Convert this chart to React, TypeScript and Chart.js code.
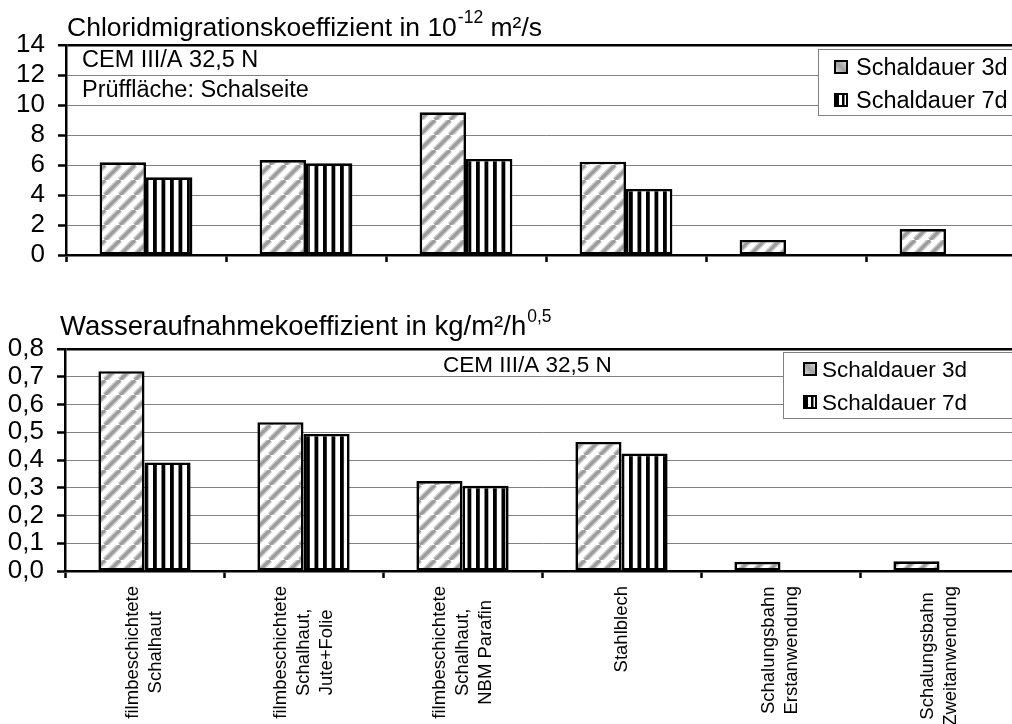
import React, { useEffect, useRef } from 'react';
import { Chart, registerables } from 'chart.js';

Chart.register(...registerables);

const FONT = '"Liberation Sans", Arial, sans-serif';

const categories: string[][] = [
  ['filmbeschichtete', 'Schalhaut'],
  ['filmbeschichtete', 'Schalhaut,', 'Jute+Folie'],
  ['filmbeschichtete', 'Schalhaut,', 'NBM Parafin'],
  ['Stahlblech'],
  ['Schalungsbahn', 'Erstanwendung'],
  ['Schalungsbahn', 'Zweitanwendung'],
];
const seriesNames = ['Schaldauer 3d', 'Schaldauer 7d'];

const chloride3d = [6.18, 6.33, 9.51, 6.22, 1.0, 1.73];
const chloride7d = [5.18, 6.11, 6.4, 4.4, null, null];
const water3d = [0.72, 0.536, 0.324, 0.465, 0.033, 0.035];
const water7d = [0.391, 0.494, 0.307, 0.423, null, null];

const chlorideAxis = { max: 14, step: 2 };
const waterAxis = { max: 0.8, step: 0.1 };

const chlorideTitle = ['Chloridmigrationskoeffizient in 10', '-12', ' m²/s'];
const waterTitle = ['Wasseraufnahmekoeffizient in kg/m²/h', '0,5', ''];
const chlorideNotes = ['CEM III/A 32,5 N', 'Prüffläche: Schalseite'];
const waterNotes = ['CEM III/A 32,5 N'];

function makeDiagPattern(ctx: CanvasRenderingContext2D): CanvasPattern {
  const s = 15;
  const c = document.createElement('canvas');
  c.width = s;
  c.height = s;
  const g = c.getContext('2d')!;
  g.fillStyle = '#fff';
  g.fillRect(0, 0, s, s);
  const lines = (w: number, col: string) => {
    g.strokeStyle = col;
    g.lineWidth = w;
    for (const off of [-s, 0, s]) {
      g.beginPath();
      g.moveTo(off, s);
      g.lineTo(off + s, 0);
      g.stroke();
    }
  };
  lines(6, '#cfcfcf');
  lines(3.2, '#9c9c9c');
  return ctx.createPattern(c, 'repeat')!;
}

function makeVertPattern(ctx: CanvasRenderingContext2D): CanvasPattern {
  const c = document.createElement('canvas');
  c.width = 17;
  c.height = 4;
  const g = c.getContext('2d')!;
  g.fillStyle = '#fff';
  g.fillRect(0, 0, 17, 4);
  g.fillStyle = '#000';
  g.fillRect(0, 0, 3.8, 4);
  g.fillRect(8.5, 0, 3.8, 4);
  return ctx.createPattern(c, 'repeat')!;
}

type Legend = { x: number; y: number; h: number; markerX: number; textX: number; baselines: number[]; font: number };

function drawLegend(ctx: CanvasRenderingContext2D, w: number, L: Legend) {
  ctx.save();
  ctx.fillStyle = '#fff';
  ctx.fillRect(L.x, L.y, w - L.x + 5, L.h);
  ctx.strokeStyle = '#808080';
  ctx.lineWidth = 1;
  ctx.strokeRect(L.x + 0.5, L.y + 0.5, w - L.x + 5, L.h);
  const m = 14;
  const y1 = L.baselines[0] - 15;
  const grd = ctx.createLinearGradient(L.markerX, y1 + m, L.markerX + m, y1);
  grd.addColorStop(0, '#e8e8e8');
  grd.addColorStop(0.5, '#a0a0a0');
  grd.addColorStop(1, '#e8e8e8');
  ctx.fillStyle = grd;
  ctx.fillRect(L.markerX, y1, m, m);
  ctx.strokeStyle = '#000';
  ctx.lineWidth = 2;
  ctx.strokeRect(L.markerX + 1, y1 + 1, m - 2, m - 2);
  const y2 = L.baselines[1] - 15;
  ctx.fillStyle = '#fff';
  ctx.fillRect(L.markerX, y2, m, m);
  ctx.fillStyle = '#000';
  ctx.fillRect(L.markerX, y2, 5, m);
  ctx.fillRect(L.markerX + 8, y2, 2.5, m);
  ctx.fillRect(L.markerX + m - 2, y2, 2, m);
  ctx.fillRect(L.markerX, y2, m, 2);
  ctx.fillRect(L.markerX, y2 + m - 2, m, 2);
  ctx.fillStyle = '#000';
  ctx.font = `${L.font}px ${FONT}`;
  ctx.textAlign = 'left';
  ctx.textBaseline = 'alphabetic';
  seriesNames.forEach((n, i) => ctx.fillText(n, L.textX, L.baselines[i]));
  ctx.restore();
}

type Cfg = {
  d3: (number | null)[];
  d7: (number | null)[];
  axis: { max: number; step: number };
  fmt: (v: number) => string;
  yWidth: number;
  top: number;
  xHeight: number;
  title: string[];
  titleX: number;
  titleY: number;
  titleSize: number;
  notes: { text: string; x: number; y: number; size: number }[];
  legend: Legend;
  xLabels: boolean;
};

function buildChart(canvas: HTMLCanvasElement, c: Cfg) {
  const ctx = canvas.getContext('2d')!;
  const diag = makeDiagPattern(ctx);
  const vert = makeVertPattern(ctx);
  const isTop = (v: number) => Math.abs(v - c.axis.max) < 1e-6;
  const overlay = {
    id: 'overlay',
    afterDraw(chart: any) {
      const g: CanvasRenderingContext2D = chart.ctx;
      g.save();
      g.fillStyle = '#000';
      g.textBaseline = 'alphabetic';
      g.textAlign = 'left';
      g.font = `${c.titleSize}px ${FONT}`;
      let x = c.titleX;
      g.fillText(c.title[0], x, c.titleY);
      x += g.measureText(c.title[0]).width + 1;
      g.font = `17.5px ${FONT}`;
      g.fillText(c.title[1], x, c.titleY - 13);
      x += g.measureText(c.title[1]).width;
      g.font = `${c.titleSize}px ${FONT}`;
      if (c.title[2]) g.fillText(c.title[2], x, c.titleY);
      c.notes.forEach((n) => {
        g.font = `${n.size}px ${FONT}`;
        g.fillText(n.text, n.x, n.y);
      });
      g.restore();
      drawLegend(g, chart.width, c.legend);
      if (c.xLabels) {
        const xs = chart.scales.x;
        const yTop = chart.chartArea.bottom + 15;
        g.save();
        g.fillStyle = '#000';
        g.font = `18.5px ${FONT}`;
        const LINE = 23;
        (chart.data.labels as string[][]).forEach((lines, i) => {
          const cx = xs.getPixelForValue(i);
          const maxW = Math.max(...lines.map((l) => g.measureText(l).width));
          const n = lines.length;
          lines.forEach((line, j) => {
            g.save();
            g.translate(cx + (j - (n - 1) / 2) * LINE, yTop);
            g.rotate(-Math.PI / 2);
            g.textAlign = 'center';
            g.textBaseline = 'middle';
            g.fillText(line, -maxW / 2, 0);
            g.restore();
          });
        });
        g.restore();
      }
    },
  };
  const ds = (label: string, data: (number | null)[], bg: CanvasPattern) => ({
    label,
    data,
    backgroundColor: bg,
    borderColor: '#000',
    borderWidth: 2.6,
    borderSkipped: false,
    barPercentage: 1,
    categoryPercentage: 0.58,
  });
  return new Chart(canvas, {
    type: 'bar',
    data: {
      labels: categories as any,
      datasets: [ds(seriesNames[0], c.d3, diag), ds(seriesNames[1], c.d7, vert)] as any,
    },
    options: {
      responsive: false,
      animation: false,
      devicePixelRatio: 1,
      layout: { padding: { top: c.top, left: 0, right: 0, bottom: 0 } },
      plugins: { legend: { display: false }, tooltip: { enabled: false } },
      scales: {
        x: {
          ticks: { display: false },
          grid: {
            display: true,
            drawOnChartArea: false,
            drawTicks: true,
            tickLength: 7,
            tickColor: '#000',
            tickWidth: 2.5,
            offset: true,
          },
          border: { display: true, color: '#000', width: 2.5 },
          afterFit: (s: any) => {
            s.height = c.xHeight;
          },
        },
        y: {
          min: 0,
          max: c.axis.max,
          ticks: {
            stepSize: c.axis.step,
            autoSkip: false,
            padding: 13,
            color: '#000',
            font: { family: FONT, size: 26 },
            callback: (v: any) => c.fmt(Number(v)),
          },
          grid: {
            color: (k: any) => (isTop(k.tick.value) || k.tick.value === 0 ? '#000' : '#808080'),
            lineWidth: (k: any) => (isTop(k.tick.value) ? 2.5 : 1),
            drawTicks: true,
            tickLength: 8,
            tickColor: '#000',
            tickWidth: 2.5,
          },
          border: { display: true, color: '#000', width: 2.5 },
          afterFit: (s: any) => {
            s.width = c.yWidth;
          },
        },
      },
    } as any,
    plugins: [overlay],
  });
}

export default function App() {
  const topRef = useRef<HTMLCanvasElement>(null);
  const botRef = useRef<HTMLCanvasElement>(null);

  useEffect(() => {
    const top = buildChart(topRef.current!, {
      d3: chloride3d,
      d7: chloride7d,
      axis: chlorideAxis,
      fmt: (v) => String(Math.round(v)),
      yWidth: 66,
      top: 45,
      xHeight: 35,
      title: chlorideTitle,
      titleX: 67,
      titleY: 36,
      titleSize: 26.5,
      notes: [
        { text: chlorideNotes[0], x: 82, y: 67, size: 23.5 },
        { text: chlorideNotes[1], x: 82, y: 97, size: 23.5 },
      ],
      legend: { x: 818, y: 49, h: 66, markerX: 834, textX: 856, baselines: [75, 108], font: 23.5 },
      xLabels: false,
    });
    const bot = buildChart(botRef.current!, {
      d3: water3d,
      d7: water7d,
      axis: waterAxis,
      fmt: (v) => v.toFixed(1).replace('.', ','),
      yWidth: 65,
      top: 59,
      xHeight: 179,
      title: waterTitle,
      titleX: 60,
      titleY: 45,
      titleSize: 27.5,
      notes: [{ text: waterNotes[0], x: 443, y: 82, size: 22.5 }],
      legend: { x: 783, y: 62, h: 66, markerX: 803, textX: 822, baselines: [87, 120], font: 22.5 },
      xLabels: true,
    });
    return () => {
      top.destroy();
      bot.destroy();
    };
  }, []);

  return (
    <div
      style={{
        position: 'absolute',
        left: 0,
        top: 0,
        width: 1012,
        height: 724,
        overflow: 'hidden',
        background: '#fff',
      }}
    >
      <canvas
        ref={topRef}
        width={1026}
        height={290}
        style={{ position: 'absolute', left: 0, top: 0, width: 1026, height: 290 }}
      />
      <canvas
        ref={botRef}
        width={1019}
        height={460}
        style={{ position: 'absolute', left: 0, top: 290, width: 1019, height: 460 }}
      />
    </div>
  );
}
